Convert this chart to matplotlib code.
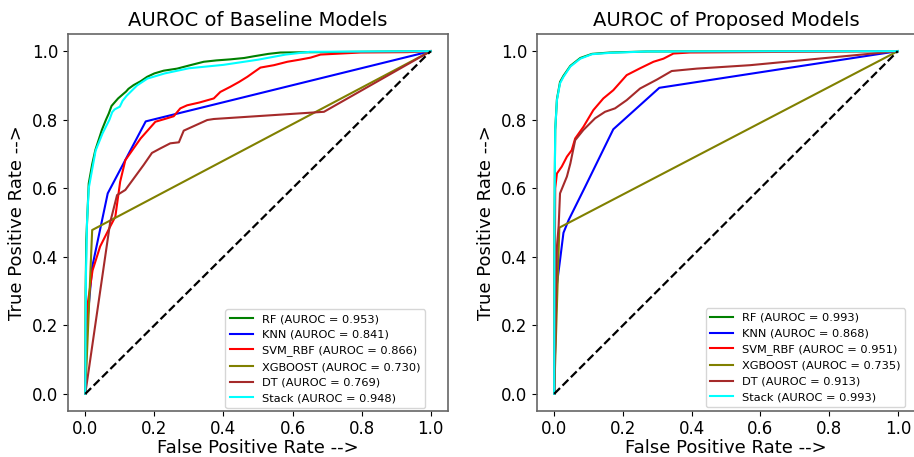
import matplotlib.pyplot as plt

# model names / colours / AUROC scores
MODELS = ['RF', 'KNN', 'SVM_RBF', 'XGBOOST', 'DT', 'Stack']
COLORS = ['green', 'blue', 'red', 'olive', 'brown', 'cyan']
AUC_BASE = [0.953, 0.841, 0.866, 0.730, 0.769, 0.948]
AUC_PROP = [0.993, 0.868, 0.951, 0.735, 0.913, 0.993]

# ---- baseline ROC points ----
base_rf_fpr = [0, 0.001, 0.003, 0.006, 0.010, 0.020, 0.029, 0.040, 0.048, 0.060, 0.068, 0.076,
               0.082, 0.095, 0.111, 0.118, 0.125, 0.140, 0.160, 0.179, 0.200, 0.227, 0.266,
               0.300, 0.343, 0.380, 0.420, 0.460, 0.488, 0.530, 0.565, 1.0]
base_rf_tpr = [0, 0.30, 0.45, 0.52, 0.614, 0.67, 0.711, 0.745, 0.770, 0.800, 0.818, 0.840,
               0.847, 0.862, 0.876, 0.882, 0.890, 0.901, 0.912, 0.925, 0.935, 0.943, 0.949,
               0.958, 0.969, 0.973, 0.976, 0.980, 0.985, 0.992, 0.996, 1.0]

base_knn_fpr = [0, 0.005, 0.020, 0.065, 0.175, 1.0]
base_knn_tpr = [0, 0.20, 0.37, 0.585, 0.795, 1.0]

base_svm_fpr = [0, 0.002, 0.008, 0.021, 0.043, 0.072, 0.087, 0.101, 0.116, 0.160, 0.203,
                0.230, 0.256, 0.275, 0.295, 0.330, 0.372, 0.391, 0.420, 0.445, 0.469, 0.490,
                0.507, 0.546, 0.585, 0.620, 0.652, 0.681, 0.740, 0.797, 0.932, 1.0]
base_svm_tpr = [0, 0.15, 0.27, 0.36, 0.43, 0.488, 0.517, 0.619, 0.682, 0.745, 0.794, 0.802,
                0.810, 0.833, 0.842, 0.850, 0.862, 0.881, 0.896, 0.910, 0.925, 0.940,
                0.952, 0.959, 0.969, 0.975, 0.981, 0.990, 0.993, 0.996, 0.997, 1.0]

base_xgb_fpr = [0, 0.020, 1.0]
base_xgb_tpr = [0, 0.478, 1.0]

base_dt_fpr = [0, 0.072, 0.092, 0.116, 0.169, 0.193, 0.217, 0.246, 0.271, 0.285, 0.353,
               0.372, 0.691, 1.0]
base_dt_tpr = [0, 0.500, 0.580, 0.595, 0.668, 0.703, 0.716, 0.731, 0.734, 0.768, 0.799,
               0.802, 0.823, 1.0]

base_st_fpr = [0, 0.002, 0.005, 0.010, 0.030, 0.050, 0.070, 0.078, 0.085, 0.100, 0.108,
               0.120, 0.150, 0.180, 0.230, 0.300, 0.400, 0.500, 0.580, 0.650, 1.0]
base_st_tpr = [0, 0.35, 0.50, 0.60, 0.71, 0.76, 0.80, 0.822, 0.83, 0.838, 0.855, 0.87, 0.90,
               0.92, 0.935, 0.95, 0.96, 0.975, 0.99, 0.998, 1.0]

# ---- proposed ROC points ----
prop_rf_fpr = [0, 0.001, 0.002, 0.003, 0.008, 0.017, 0.027, 0.047, 0.076, 0.110, 0.163,
               0.270, 1.0]
prop_rf_tpr = [0, 0.50, 0.66, 0.77, 0.860, 0.910, 0.928, 0.957, 0.980, 0.992, 0.996,
               0.999, 1.0]

prop_knn_fpr = [0, 0.004, 0.008, 0.017, 0.027, 0.042, 0.090, 0.172, 0.306, 1.0]
prop_knn_tpr = [0, 0.20, 0.32, 0.39, 0.47, 0.507, 0.604, 0.772, 0.893, 1.0]

prop_svm_fpr = [0, 0.002, 0.003, 0.008, 0.022, 0.037, 0.051, 0.061, 0.085, 0.114, 0.143,
                0.172, 0.211, 0.250, 0.289, 0.318, 0.347, 0.395, 1.0]
prop_svm_tpr = [0, 0.40, 0.600, 0.643, 0.663, 0.692, 0.711, 0.745, 0.779, 0.828, 0.862,
                0.886, 0.930, 0.950, 0.969, 0.978, 0.993, 0.996, 1.0]

prop_xgb_fpr = [0, 0.015, 1.0]
prop_xgb_tpr = [0, 0.485, 1.0]

prop_dt_fpr = [0, 0.004, 0.008, 0.013, 0.017, 0.037, 0.047, 0.061, 0.085, 0.119, 0.148,
               0.177, 0.211, 0.250, 0.299, 0.342, 0.415, 0.570, 1.0]
prop_dt_tpr = [0, 0.20, 0.43, 0.49, 0.585, 0.634, 0.672, 0.740, 0.770, 0.804, 0.823,
               0.833, 0.857, 0.891, 0.917, 0.942, 0.949, 0.959, 1.0]

prop_st_fpr = [0, 0.001, 0.002, 0.003, 0.008, 0.017, 0.027, 0.047, 0.076, 0.110, 0.163,
               0.270, 1.0]
prop_st_tpr = [0, 0.49, 0.65, 0.77, 0.857, 0.906, 0.925, 0.955, 0.978, 0.991, 0.995,
               0.999, 1.0]

BASE = [(base_rf_fpr, base_rf_tpr), (base_knn_fpr, base_knn_tpr), (base_svm_fpr, base_svm_tpr),
        (base_xgb_fpr, base_xgb_tpr), (base_dt_fpr, base_dt_tpr), (base_st_fpr, base_st_tpr)]
PROP = [(prop_rf_fpr, prop_rf_tpr), (prop_knn_fpr, prop_knn_tpr), (prop_svm_fpr, prop_svm_tpr),
        (prop_xgb_fpr, prop_xgb_tpr), (prop_dt_fpr, prop_dt_tpr), (prop_st_fpr, prop_st_tpr)]


def draw_panel(ax, curves, aucs, title, leg_anchor):
    for (fpr, tpr), name, col, auc in zip(curves, MODELS, COLORS, aucs):
        ax.plot(fpr, tpr, color=col, linewidth=1.5, label=f'{name} (AUROC = {auc:.3f})')
    ax.plot([0, 1], [0, 1], color='black', linestyle='--', linewidth=1.6)
    ax.set_title(title, fontsize=14)
    ax.set_xlabel('False Positive Rate -->', fontsize=13, labelpad=0.5)
    ax.set_ylabel('True Positive Rate -->', fontsize=13)
    ax.tick_params(labelsize=12)
    ax.tick_params(axis='x', pad=3)
    for sp in ax.spines.values():
        sp.set_color('0.4')
        sp.set_linewidth(1.2)
    ax.legend(loc='lower right', bbox_to_anchor=leg_anchor, borderaxespad=0,
              fontsize=8.2, labelspacing=0.5)


fig = plt.figure(figsize=(9.14, 4.57), dpi=100)
ax1 = fig.add_axes([68 / 914, 46 / 457, 380 / 914, 377 / 457])
ax2 = fig.add_axes([537 / 914, 46 / 457, 378 / 914, 377 / 457])

draw_panel(ax1, BASE, AUC_BASE, 'AUROC of Baseline Models', (0.939, 0.008))
draw_panel(ax2, PROP, AUC_PROP, 'AUROC of Proposed Models', (0.974, 0.011))

fig.savefig('out.png', dpi=100)
